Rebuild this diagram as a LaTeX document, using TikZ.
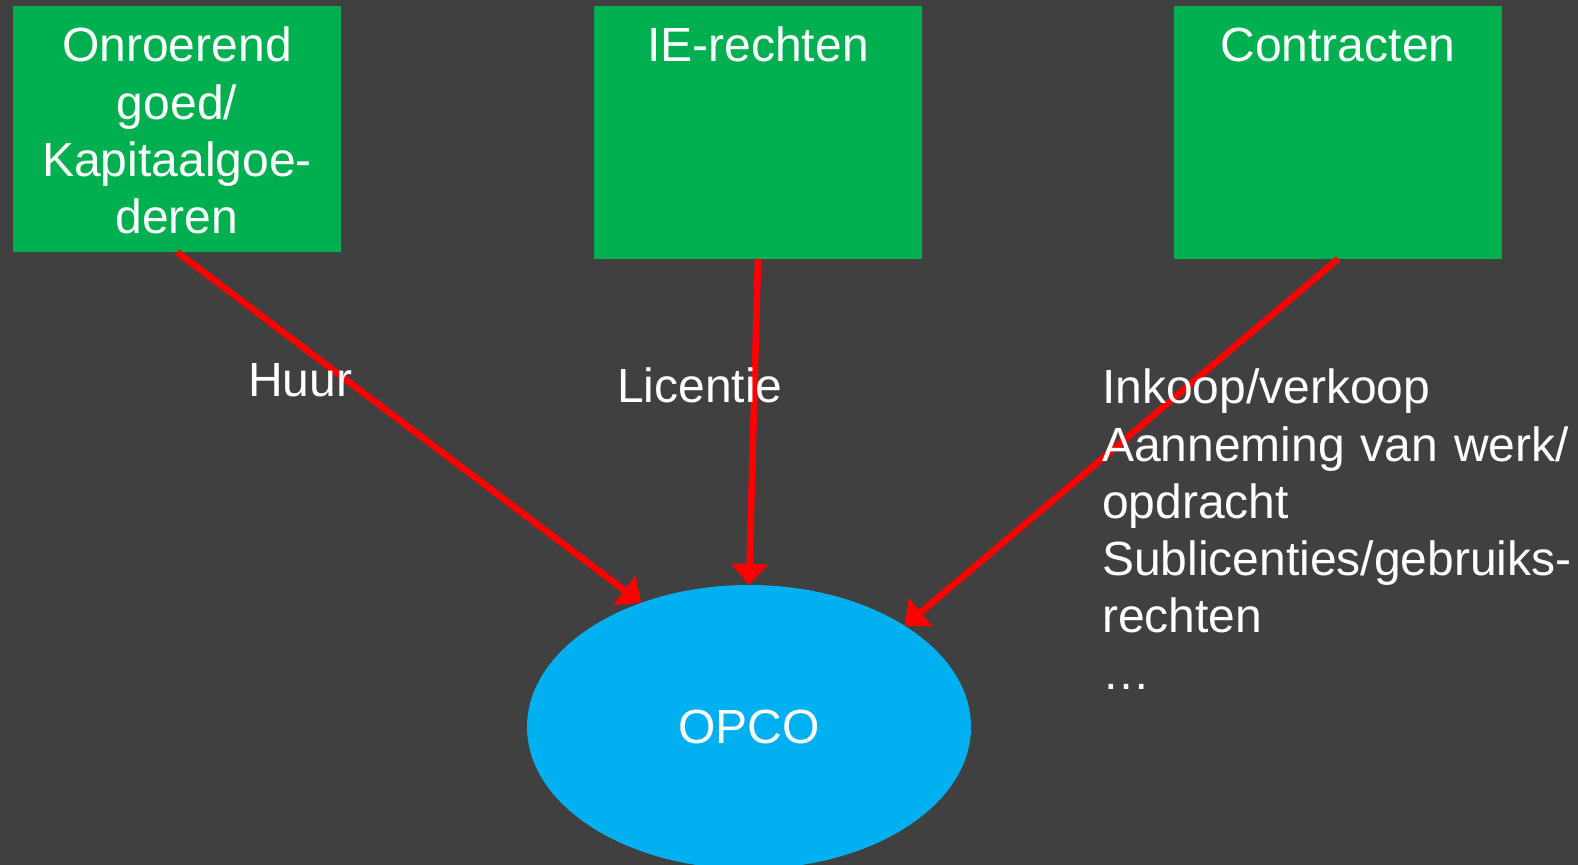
\documentclass[tikz,border=0pt]{standalone}
\usepackage{fontspec}
\setmainfont{Liberation Sans}
\usetikzlibrary{shapes.geometric, arrows.meta}
\definecolor{slide}{HTML}{404040}
\definecolor{boxgreen}{HTML}{00B050}
\definecolor{opcoblue}{HTML}{00B0F0}
\newcommand{\slidefont}{\fontsize{24}{28.6}\selectfont}
\tikzstyle{asset} =
[rectangle, anchor=north, inner sep=0pt, outer sep=0pt, text width=164pt,
text height=28pt, align=center, fill=boxgreen, text=white, font=\slidefont]
\tikzstyle{company} =
[ellipse, minimum width=222pt, minimum height=142pt, inner sep=0pt,
outer sep=0pt, fill=opcoblue, text=white, font=\slidefont]
\tikzstyle{relation} =
[anchor=base west, inner sep=0pt, outer sep=0pt, text=white, font=\slidefont]
\tikzstyle{line} = [draw, red, line width=3.3pt,
-{Triangle[length=10.5pt, width=18pt]}]

\begin{document}
\begin{tikzpicture}[x=0.5pt, y=0.5pt]
  \clip (0,0) rectangle (1578,865);
  \fill [slide] (0,0) rectangle (1578,865);
  % boxes
  \node [asset, text depth=95pt] (onroerend) at (177,859)
   {Onroerend\\goed/\\Kapitaalgoe-\\deren};
  \node [asset, text depth=98.5pt] (ie) at (758,859) {IE-rechten};
  \node [asset, text depth=98.5pt] (contracten) at (1338,859) {Contracten};
  \node [company] (opco) at (749,138) {OPCO};
  % edges
  \path [line] (onroerend.south) -- (opco.131);
  \path [line] (ie.south) -- (opco.north);
  \path [line] (contracten.south) -- (opco.33);
  % relation texts
  \node [relation] (huur) at (248,468) {Huur};
  \node [relation] (licentie) at (617,462) {Licentie};
  \node [relation, text width=240pt, align=left] (overig) at (1102,461)
   {Inkoop/verkoop\\Aanneming van werk/\\opdracht\\Sublicenties/gebruiks-\\rechten\\…};
\end{tikzpicture}
\end{document}
